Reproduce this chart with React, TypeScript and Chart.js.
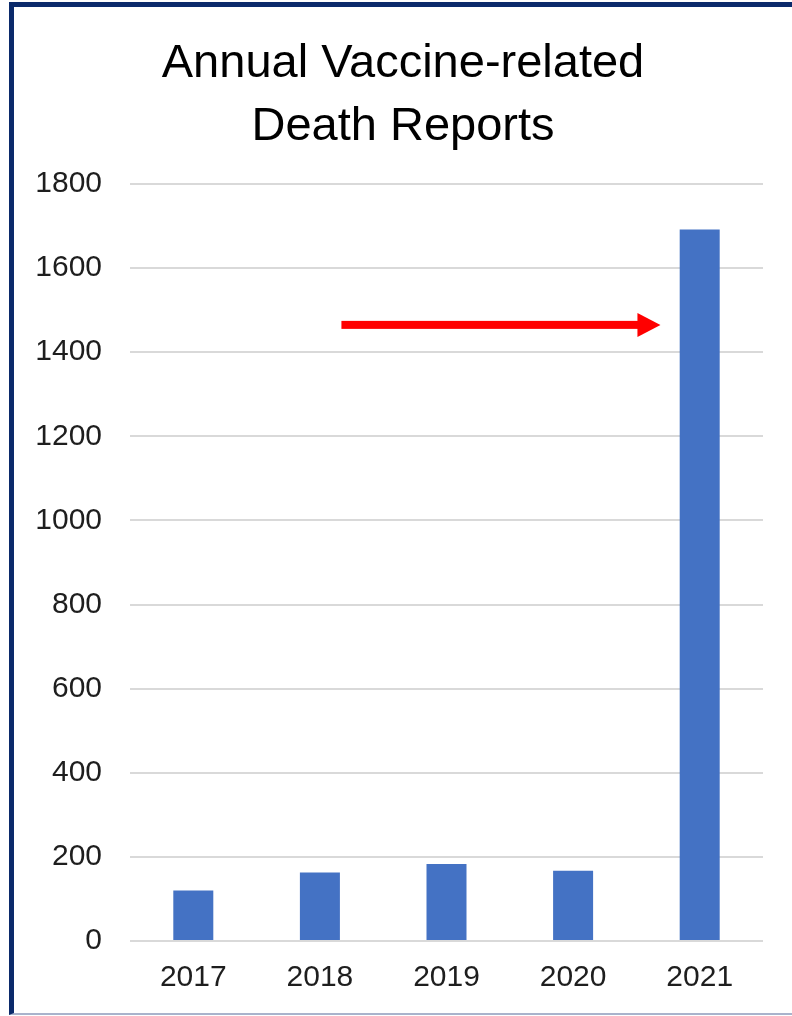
import React, { useEffect, useRef } from "react";
import { Chart, registerables } from "chart.js";

Chart.register(...registerables);

const TITLE_LINES = ["Annual Vaccine-related", "Death Reports"];
const YEARS = ["2017", "2018", "2019", "2020", "2021"];
const DEATH_REPORTS = [120, 163, 183, 167, 1692];
const Y_MIN = 0;
const Y_MAX = 1800;
const Y_STEP = 200;
// Annotation arrow, expressed in data units (category index, value)
const ARROW_VALUE = 1465;
const ARROW_FROM_INDEX = 1.17;
const ARROW_TO_INDEX = 3.69;

const FONT = "'Liberation Sans', Arial, Helvetica, sans-serif";

const arrowPlugin = {
  id: "arrowAnnotation",
  afterDatasetsDraw(chart: any) {
    const { ctx, scales } = chart;
    const xs = scales.x;
    const ys = scales.y;
    const x0 = xs.getPixelForValue(ARROW_FROM_INDEX);
    const x1 = xs.getPixelForValue(ARROW_TO_INDEX);
    const y = ys.getPixelForValue(ARROW_VALUE);
    const headLen = 23;
    const headHalf = 12;
    ctx.save();
    ctx.fillStyle = "#ff0000";
    ctx.fillRect(x0, y - 4, x1 - headLen - x0 + 1, 8);
    ctx.beginPath();
    ctx.moveTo(x1 - headLen, y - headHalf);
    ctx.lineTo(x1, y);
    ctx.lineTo(x1 - headLen, y + headHalf);
    ctx.closePath();
    ctx.fill();
    ctx.restore();
  },
};

export default function App() {
  const canvasRef = useRef<HTMLCanvasElement | null>(null);

  useEffect(() => {
    if (!canvasRef.current) return;
    const chart = new Chart(canvasRef.current, {
      type: "bar",
      data: {
        labels: YEARS,
        datasets: [
          {
            label: "Death reports",
            data: DEATH_REPORTS,
            backgroundColor: "#4472c4",
            borderWidth: 0,
            categoryPercentage: 1,
            barPercentage: 0.316,
          },
        ],
      },
      options: {
        responsive: false,
        animation: false,
        layout: { padding: { left: 0, right: 0, top: 0, bottom: 0 } },
        plugins: {
          legend: { display: false },
          tooltip: { enabled: false },
          title: {
            display: true,
            text: TITLE_LINES,
            color: "#000000",
            font: { family: FONT, size: 47, weight: "normal", lineHeight: 63 / 47 },
            padding: { top: 26, bottom: 25 },
          },
        },
        scales: {
          x: {
            grid: { display: false },
            border: { display: false },
            ticks: {
              color: "#1e1e1e",
              font: { family: FONT, size: 30 },
              padding: 11,
              maxRotation: 0,
            },
            afterFit: (s: any) => {
              s.height = 72;
            },
          },
          y: {
            min: Y_MIN,
            max: Y_MAX,
            grid: { color: "#d9d9d9", lineWidth: 2, drawTicks: false },
            border: { display: false },
            ticks: {
              stepSize: Y_STEP,
              color: "#1e1e1e",
              font: { family: FONT, size: 30 },
              padding: 28,
              callback: (v: any) => String(v),
            },
            afterFit: (s: any) => {
              s.width = 116;
            },
          },
          yRight: {
            type: "linear",
            position: "right",
            display: true,
            grid: { display: false, drawTicks: false },
            border: { display: false },
            ticks: { display: false },
            afterFit: (s: any) => {
              s.width = 29;
            },
          },
        },
      },
      plugins: [arrowPlugin],
    });
    return () => chart.destroy();
  }, []);

  return (
    <div
      style={{
        position: "absolute",
        left: 0,
        top: 0,
        width: 792,
        height: 1016,
        overflow: "hidden",
        background: "#ffffff",
      }}
    >
      <div
        style={{
          position: "absolute",
          left: 9,
          top: 2,
          width: 900,
          height: 1006,
          borderLeft: "5px solid #0b2a6b",
          borderTop: "5px solid #0b2a6b",
          borderBottom: "2px solid #a9b3cc",
        }}
      />
      <canvas
        ref={canvasRef}
        width={778}
        height={1006}
        style={{ position: "absolute", left: 14, top: 7, width: 778, height: 1006 }}
      />
    </div>
  );
}
